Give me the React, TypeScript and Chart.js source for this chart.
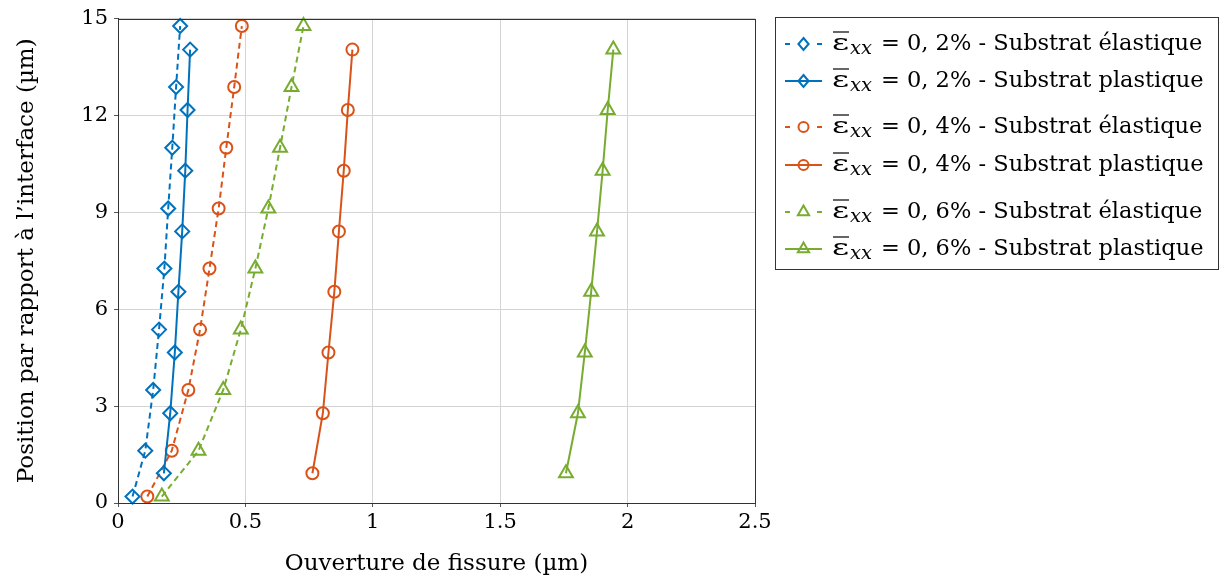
import React, { useEffect, useRef } from "react";
import { Chart, registerables } from "chart.js";

Chart.register(...registerables);

// ---- data ----
const yElastic = [0.2, 1.62, 3.5, 5.37, 7.26, 9.12, 11.0, 12.88, 14.77];
const yPlastic = [0.92, 2.78, 4.66, 6.54, 8.41, 10.29, 12.17, 14.04];

const xElastic02 = [0.057, 0.107, 0.138, 0.161, 0.182, 0.197, 0.213, 0.228, 0.244];
const xPlastic02 = [0.18, 0.205, 0.223, 0.237, 0.252, 0.264, 0.273, 0.283];
const xElastic04 = [0.115, 0.211, 0.276, 0.322, 0.359, 0.395, 0.425, 0.456, 0.486];
const xPlastic04 = [0.763, 0.804, 0.826, 0.849, 0.867, 0.886, 0.902, 0.92];
const xElastic06 = [0.172, 0.316, 0.413, 0.482, 0.539, 0.59, 0.636, 0.681, 0.728];
const xPlastic06 = [1.758, 1.805, 1.832, 1.857, 1.88, 1.902, 1.922, 1.944];

const strainLabels = ["0, 2%", "0, 4%", "0, 6%"];
const substrateLabels = ["Substrat élastique", "Substrat plastique"];
const xTickValues = [0, 0.5, 1, 1.5, 2, 2.5];
const yTickValues = [0, 3, 6, 9, 12, 15];
const xTitle = "Ouverture de fissure (µm)";
const yTitle = "Position par rapport à l’interface (µm)";

const colors = ["#0072BD", "#D95319", "#77AC30"];
const markers = ["rectRot", "circle", "triangle"];
const markerRadius = [7, 6, 8];

const FONT = "'DejaVu Serif', serif";

const toPoints = (xs: number[], ys: number[]) => xs.map((x, i) => ({ x, y: ys[i] }));

const seriesX = [
  [xElastic02, xPlastic02],
  [xElastic04, xPlastic04],
  [xElastic06, xPlastic06],
];

function buildDatasets() {
  const out: any[] = [];
  strainLabels.forEach((s, si) => {
    substrateLabels.forEach((sub, ki) => {
      const elastic = ki === 0;
      out.push({
        label: `ε̄xx = ${s} - ${sub}`,
        legendRest: `= ${s} - ${sub}`,
        data: toPoints(seriesX[si][ki], elastic ? yElastic : yPlastic),
        borderColor: colors[si],
        backgroundColor: "rgba(0,0,0,0)",
        borderWidth: 2,
        borderDash: elastic ? [6, 4] : [],
        pointStyle: markers[si],
        pointRadius: markerRadius[si],
        pointBorderWidth: 2,
        pointBorderColor: colors[si],
        pointBackgroundColor: "rgba(0,0,0,0)",
        showLine: true,
        tension: 0,
        clip: false,
      });
    });
  });
  return out;
}

const legendRowsY = [44, 81, 127, 165, 212, 249];

function drawMarker(ctx: CanvasRenderingContext2D, style: string, r: number, x: number, y: number, color: string) {
  ctx.save();
  ctx.strokeStyle = color;
  ctx.lineWidth = 2;
  ctx.setLineDash([]);
  ctx.beginPath();
  if (style === "circle") {
    ctx.arc(x, y, r, 0, Math.PI * 2);
  } else if (style === "rectRot") {
    ctx.moveTo(x, y - r);
    ctx.lineTo(x + r * 0.85, y);
    ctx.lineTo(x, y + r);
    ctx.lineTo(x - r * 0.85, y);
    ctx.closePath();
  } else {
    ctx.moveTo(x, y - r);
    ctx.lineTo(x + r * 0.866, y + r / 2);
    ctx.lineTo(x - r * 0.866, y + r / 2);
    ctx.closePath();
  }
  ctx.stroke();
  ctx.restore();
}

const boxPlugin = {
  id: "boxAndLegend",
  afterDraw(chart: any) {
    const ctx = chart.ctx;
    const a = chart.chartArea;
    ctx.save();
    ctx.strokeStyle = "#333";
    ctx.lineWidth = 1;
    ctx.setLineDash([]);
    ctx.strokeRect(Math.round(a.left) + 0.5, Math.round(a.top) + 0.5, Math.round(a.right - a.left), Math.round(a.bottom - a.top));

    // legend box
    ctx.strokeRect(775.5, 17.5, 443, 252);

    chart.data.datasets.forEach((ds: any, i: number) => {
      const cy = legendRowsY[i];
      const dashed = ds.borderDash && ds.borderDash.length > 0;
      ctx.strokeStyle = ds.borderColor;
      ctx.lineWidth = 2;
      ctx.setLineDash([]);
      ctx.beginPath();
      if (dashed) {
        ctx.moveTo(785, cy);
        ctx.lineTo(790, cy);
        ctx.moveTo(817, cy);
        ctx.lineTo(822, cy);
      } else {
        ctx.moveTo(785, cy);
        ctx.lineTo(822, cy);
      }
      ctx.stroke();
      const style = ds.pointStyle;
      const r = style === "triangle" ? 6.5 : style === "circle" ? 5 : 6;
      drawMarker(ctx, style, r, 803.5, cy, ds.borderColor);

      // text
      const base = cy + 6;
      ctx.fillStyle = "#000";
      ctx.textBaseline = "alphabetic";
      ctx.textAlign = "left";
      const x0 = 832;
      ctx.font = `23px ${FONT}`;
      const w = ctx.measureText("ε").width;
      const sx = 17 / w;
      ctx.save();
      ctx.translate(x0, base);
      ctx.scale(sx, 1);
      ctx.fillText("ε", 0, 0);
      ctx.restore();
      ctx.strokeStyle = "#000";
      ctx.lineWidth = 1.2;
      ctx.beginPath();
      ctx.moveTo(x0 + 1, base - 18);
      ctx.lineTo(x0 + 17, base - 18);
      ctx.stroke();
      ctx.font = `italic 18px ${FONT}`;
      const wx = ctx.measureText("xx").width;
      ctx.save();
      ctx.translate(x0 + 18, base + 3.5);
      ctx.scale(22 / wx, 1);
      ctx.fillText("xx", 0, 0);
      ctx.restore();
      ctx.font = `22.5px ${FONT}`;
      ctx.fillText(ds.legendRest, 881, base);
    });
    ctx.restore();
  },
};

export default function App() {
  const ref = useRef<HTMLCanvasElement>(null);
  useEffect(() => {
    const prevMargin = document.body.style.margin;
    document.body.style.margin = "0";
    const chart = new Chart(ref.current as HTMLCanvasElement, {
      type: "scatter",
      data: { datasets: buildDatasets() },
      options: {
        animation: false,
        responsive: false,
        devicePixelRatio: 1,
        layout: { padding: { top: 17, right: 465, bottom: 0, left: 0 } },
        plugins: { legend: { display: false }, tooltip: { enabled: false } },
        scales: {
          x: {
            type: "linear",
            min: 0,
            max: 2.5,
            afterBuildTicks: (s: any) => {
              s.ticks = xTickValues.map((v) => ({ value: v }));
            },
            afterFit: (s: any) => {
              s.height = 78;
            },
            ticks: {
              color: "#000",
              font: { family: FONT, size: 21 },
              padding: 3,
              maxRotation: 0,
              callback: (v: any) => String(v),
            },
            grid: { color: "#d4d4d4", lineWidth: 1, drawTicks: true, tickLength: 4, tickColor: "#555" },
            border: { color: "#333", width: 1 },
            title: {
              display: true,
              text: xTitle,
              color: "#000",
              font: { family: FONT, size: 23 },
              padding: { top: 0, bottom: 3 },
            },
          },
          y: {
            type: "linear",
            min: 0,
            max: 15,
            afterBuildTicks: (s: any) => {
              s.ticks = yTickValues.map((v) => ({ value: v }));
            },
            afterFit: (s: any) => {
              s.width = 118;
            },
            ticks: {
              color: "#000",
              font: { family: FONT, size: 21 },
              padding: 6,
              callback: (v: any) => String(v),
            },
            grid: { color: "#d4d4d4", lineWidth: 1, drawTicks: true, tickLength: 4, tickColor: "#555" },
            border: { color: "#333", width: 1 },
            title: {
              display: true,
              text: yTitle,
              color: "#000",
              font: { family: FONT, size: 23 },
              padding: { top: 13, bottom: 0 },
            },
          },
        },
      } as any,
      plugins: [boxPlugin],
    });
    return () => {
      chart.destroy();
      document.body.style.margin = prevMargin;
    };
  }, []);
  return (
    <div style={{ position: "fixed", left: 0, top: 0, width: 1220, height: 581, background: "#fff" }}>
      <canvas ref={ref} width={1220} height={581} style={{ width: 1220, height: 581, display: "block" }} />
    </div>
  );
}
